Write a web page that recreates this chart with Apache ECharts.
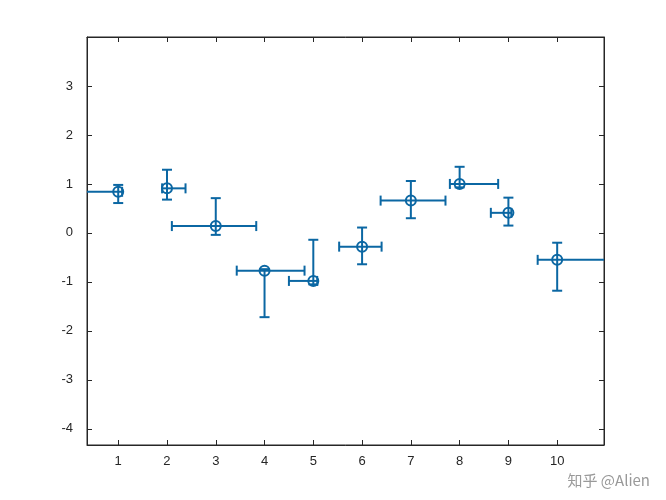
<!DOCTYPE html>
<html><head><meta charset="utf-8">
<script src="https://cdn.jsdelivr.net/npm/echarts@6/dist/echarts.min.js"></script>
<style>html,body{margin:0;background:#fff}#c{width:666px;height:500px}</style>
</head><body><div id="c"></div>
<script>
const xVals = [1,2,3,4,5,6,7,8,9,10];
const yVals = [0.84,0.91,0.14,-0.77,-0.98,-0.28,0.66,1.0,0.41,-0.55];
const yErrLow = [0.23,0.23,0.18,0.95,0.07,0.36,0.36,0.07,0.26,0.63];
const yErrHigh = [0.14,0.38,0.57,0.03,0.84,0.39,0.40,0.35,0.31,0.35];
const xErrLeft = [0.75,0.1,0.9,0.57,0.5,0.47,0.62,0.2,0.36,0.4];
const xErrRight = [0.08,0.38,0.83,0.82,0.08,0.4,0.71,0.79,0.06,1.0];
const xTicks = [1,2,3,4,5,6,7,8,9,10];
const yTicks = [-4,-3,-2,-1,0,1,2,3];
const C = '#0b67a3';
const data = xVals.map((x,i)=>[x,yVals[i],yErrLow[i],yErrHigh[i],xErrLeft[i],xErrRight[i]]);
const chart = echarts.init(document.getElementById('c'));
const AL = {onZero:false,lineStyle:{color:'#262626'}};
const lab = {color:'#262626',fontSize:13,fontFamily:'Liberation Sans'};
const tick = v=>({inside:true,length:5,customValues:v,lineStyle:{color:'#262626'}});
chart.setOption({
  animation:false,
  grid:{left:87,right:62,top:37,bottom:55,show:true,borderColor:'#262626',borderWidth:1},
  xAxis:[
    {type:'value',min:0.36,max:10.96,axisLine:AL,splitLine:{show:false},axisTick:tick(xTicks),
      axisLabel:Object.assign({customValues:xTicks,margin:10},lab)},
    {type:'value',position:'top',min:0.36,max:10.96,axisLine:AL,axisTick:tick(xTicks),axisLabel:{show:false},splitLine:{show:false}}
  ],
  yAxis:[
    {type:'value',min:-4.33,max:4,axisLine:AL,splitLine:{show:false},axisTick:tick(yTicks),
      axisLabel:Object.assign({customValues:yTicks,margin:14},lab)},
    {type:'value',position:'right',min:-4.33,max:4,axisLine:AL,splitLine:{show:false},axisTick:tick(yTicks),axisLabel:{show:false}}
  ],
  series:[
    {type:'custom',clip:true,data:data,encode:{x:0,y:1},
     renderItem:function(params,api){
       const x=api.value(0),y=api.value(1);
       const c=api.coord([x,y]);
       const t=api.coord([x,y+api.value(3)]), b=api.coord([x,y-api.value(2)]);
       const l=api.coord([x-api.value(4),y]), r=api.coord([x+api.value(5),y]);
       const w=5, st={stroke:C,lineWidth:2};
       const L=(x1,y1,x2,y2)=>({type:'line',shape:{x1,y1,x2,y2},style:st});
       return {type:'group',children:[
         L(c[0],t[1],c[0],b[1]), L(c[0]-w,t[1],c[0]+w,t[1]), L(c[0]-w,b[1],c[0]+w,b[1]),
         L(l[0],c[1],r[0],c[1]), L(l[0],c[1]-w,l[0],c[1]+w), L(r[0],c[1]-w,r[0],c[1]+w),
         {type:'circle',shape:{cx:c[0],cy:c[1],r:5},style:{fill:'none',stroke:C,lineWidth:2}}
       ]};
     }}
  ],
  graphic:[{type:'text',right:16,bottom:12,style:{text:'知乎 @Alien',fill:'#999',font:'15px "Noto Sans CJK SC"'}}]
});
</script></body></html>
